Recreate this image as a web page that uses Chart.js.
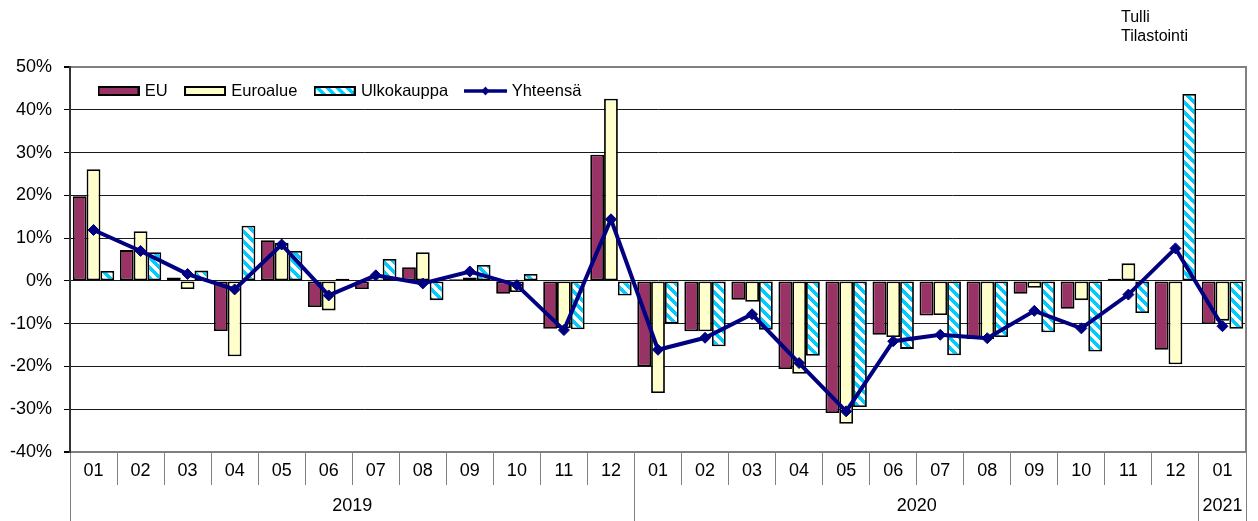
<!DOCTYPE html>
<html>
<head>
<meta charset="utf-8">
<script src="https://cdn.jsdelivr.net/npm/chart.js@4/dist/chart.umd.min.js"></script>
<style>
html,body{margin:0;padding:0;background:#fff;}
canvas{display:block;}
</style>
</head>
<body>
<canvas id="c" width="1258" height="521"></canvas>
<script>
// ---- data ----
const monthLabels = ['01','02','03','04','05','06','07','08','09','10','11','12',
                     '01','02','03','04','05','06','07','08','09','10','11','12','01'];
const yearLabels  = ['2019','2019','2019','2019','2019','2019','2019','2019','2019','2019','2019','2019',
                     '2020','2020','2020','2020','2020','2020','2020','2020','2020','2020','2020','2020','2021'];
const seriesNames = ['EU','Euroalue','Ulkokauppa','Yhteensä'];
const euValues    = [19.8, 7.2, 0.8, -11.7, 9.5, -6.1, -1.9, 3.2, 0.4, -3.0, -11.2, 29.5,
                     -20.0, -11.8, -4.4, -20.6, -30.9, -12.6, -8.1, -13.6, -3.0, -6.5, 0.5, -16.1, -10.1];
const euroValues  = [26.1, 11.6, -1.9, -17.6, 8.9, -6.9, 0.3, 6.7, 0.8, -2.6, -11.0, 42.6,
                     -26.2, -11.8, -4.9, -21.7, -33.4, -13.1, -8.0, -13.6, -1.6, -4.5, 4.1, -19.5, -9.3];
const ulkoValues  = [2.3, 6.7, 2.4, 12.9, 7.0, 0.5, 5.1, -4.5, 3.7, 1.6, -11.3, -3.4,
                     -10.0, -15.3, -11.4, -17.5, -29.5, -15.9, -17.4, -13.1, -12.0, -16.5, -7.5, 43.7, -11.2];
const totalValues = [11.9, 7.0, 1.6, -2.0, 8.5, -3.4, 1.3, -0.6, 2.2, -1.0, -11.5, 14.4,
                     -16.1, -13.3, -7.8, -19.2, -30.5, -14.1, -12.6, -13.4, -7.0, -11.1, -3.2, 7.6, -10.6];
const yTickMin = -40, yTickMax = 50, yTickStep = 10;
const sourceLines = ['Tulli', 'Tilastointi'];

// ---- styles ----
const FONT = "'Liberation Sans', Arial, sans-serif";
Chart.defaults.font.family = FONT;
Chart.defaults.color = '#000';

const EU_COLOR = '#993366';
const EURO_COLOR = '#FFFFCC';
const CYAN = '#00CCFF';
const NAVY = '#000080';

function stripeTile() {
  const s = 10;
  const t = document.createElement('canvas');
  t.width = s; t.height = s;
  const g = t.getContext('2d');
  g.fillStyle = '#fff'; g.fillRect(0, 0, s, s);
  g.fillStyle = CYAN;
  for (let y = 0; y < s; y++) {
    for (let x = 0; x < s; x++) {
      const d = ((x - y) % s + s) % s;
      if (d < 5) g.fillRect(x, y, 1, 1);
    }
  }
  return t;
}
const tile = stripeTile();
const mainCtx = document.getElementById('c').getContext('2d');
const stripePattern = mainCtx.createPattern(tile, 'repeat');

function boxIcon(kind) {
  const c = document.createElement('canvas');
  c.width = 42; c.height = 10;
  const g = c.getContext('2d');
  if (kind === 'pattern') g.fillStyle = g.createPattern(tile, 'repeat');
  else g.fillStyle = kind;
  g.fillRect(0, 0, 42, 10);
  g.strokeStyle = '#000'; g.lineWidth = 2;
  g.strokeRect(1, 1, 40, 8);
  return c;
}
function lineIcon() {
  const c = document.createElement('canvas');
  c.width = 43; c.height = 12;
  const g = c.getContext('2d');
  g.strokeStyle = NAVY; g.lineWidth = 3.5;
  g.beginPath(); g.moveTo(0, 6); g.lineTo(43, 6); g.stroke();
  g.fillStyle = NAVY;
  g.beginPath(); g.moveTo(21.5, 1.5); g.lineTo(25.5, 6); g.lineTo(21.5, 10.5); g.lineTo(17.5, 6); g.closePath(); g.fill();
  return c;
}
const legendIcons = [boxIcon(EU_COLOR), boxIcon(EURO_COLOR), boxIcon('pattern'), lineIcon()];

// year groups derived from the year labels
const groups = [];
yearLabels.forEach((y, i) => {
  const last = groups[groups.length - 1];
  if (!last || last.year !== y) groups.push({ year: y, start: i, end: i });
  else last.end = i;
});
const yearBoundaries = groups.map(g => g.start).concat([monthLabels.length]);
const yearCenters = groups.map(g => ({ value: (g.start + g.end + 1) / 2, label: g.year }));

const placementPlugin = {
  id: 'placement',
  afterLayout(chart) {
    const lg = chart.legend;
    if (lg) {
      const pad = lg.options.labels.padding;
      lg.left = 100.5 - pad;
      lg.top = 82.75 - pad;
      lg.right = 1230;
      lg.bottom = 125;
      lg.width = lg.right - lg.left;
      lg.height = lg.bottom - lg.top;
    }
  },
  afterDraw(chart) {
    const g = chart.ctx;
    g.save();
    g.fillStyle = '#000';
    g.font = '16px ' + FONT;
    g.textBaseline = 'alphabetic';
    g.textAlign = 'left';
    g.fillText(sourceLines[0], 1121, 21.5);
    g.fillText(sourceLines[1], 1121, 41);
    g.restore();
  }
};

const barCommon = { borderColor: '#000', borderWidth: 1.8, borderSkipped: false, order: 1,
                    categoryPercentage: 0.88, barPercentage: 1.0 };

new Chart(mainCtx, {
  type: 'bar',
  data: {
    labels: monthLabels,
    datasets: [
      Object.assign({ label: seriesNames[0], data: euValues, backgroundColor: EU_COLOR }, barCommon),
      Object.assign({ label: seriesNames[1], data: euroValues, backgroundColor: EURO_COLOR }, barCommon),
      Object.assign({ label: seriesNames[2], data: ulkoValues, backgroundColor: stripePattern }, barCommon),
      { type: 'line', label: seriesNames[3], data: totalValues, borderColor: NAVY, backgroundColor: NAVY,
        borderWidth: 4, pointStyle: 'rectRot', pointRadius: 5.5, pointBorderWidth: 1,
        pointBackgroundColor: NAVY, pointBorderColor: NAVY, tension: 0, fill: false, order: 0 }
    ]
  },
  options: {
    responsive: false,
    animation: false,
    layout: { padding: { top: 67, left: 0, right: 0, bottom: 0 } },
    plugins: {
      tooltip: { enabled: false },
      title: { display: false },
      legend: {
        display: true, position: 'top', align: 'start', maxHeight: 0.001,
        labels: {
          usePointStyle: true, pointStyleWidth: 36, boxHeight: 12, padding: 19.35,
          font: { size: 16.5, family: FONT }, color: '#000',
          generateLabels: (chart) => chart.data.datasets.map((ds, i) => ({
            text: ds.label, pointStyle: legendIcons[i], fillStyle: '#000', strokeStyle: '#000',
            lineWidth: 0, hidden: false, datasetIndex: i
          }))
        }
      }
    },
    scales: {
      x: {
        type: 'category', position: 'bottom', offset: true,
        grid: { offset: true, drawOnChartArea: false, drawTicks: true, tickLength: 33, color: '#808080', lineWidth: 1 },
        border: { display: true, color: '#808080', width: 1 },
        ticks: { padding: -24.8, autoSkip: false, maxRotation: 0, minRotation: 0, color: '#000', font: { size: 18, family: FONT } },
        afterFit: (s) => { s.height = 33; }
      },
      x2: {
        type: 'linear', position: 'bottom', min: 0, max: monthLabels.length, offset: false,
        afterBuildTicks: (s) => {
          s.ticks = yearBoundaries.map(v => ({ value: v }))
            .concat(yearCenters.map(c => ({ value: c.value })))
            .sort((a, b) => a.value - b.value);
        },
        grid: {
          offset: false, drawOnChartArea: false, drawTicks: true, tickLength: 36, lineWidth: 1,
          color: (ctx) => (ctx.tick && yearBoundaries.includes(ctx.tick.value)) ? '#808080' : 'rgba(0,0,0,0)'
        },
        border: { display: false },
        ticks: {
          padding: -25.8, autoSkip: false, maxRotation: 0, minRotation: 0, color: '#000', font: { size: 18, family: FONT },
          callback: (v) => { const c = yearCenters.find(c => c.value === v); return c ? c.label : ''; }
        },
        afterFit: (s) => { s.height = 36; }
      },
      y: {
        type: 'linear', position: 'left', min: yTickMin, max: yTickMax,
        ticks: { stepSize: yTickStep, padding: 12, color: '#000', font: { size: 18, family: FONT },
                 callback: (v) => v + '%' },
        grid: {
          drawTicks: true, tickLength: 6, tickColor: '#000',
          color: (ctx) => (ctx.tick && (ctx.tick.value === yTickMax || ctx.tick.value === yTickMin)) ? '#808080' : '#1a1a1a',
          lineWidth: (ctx) => (ctx.tick && (ctx.tick.value === yTickMax || ctx.tick.value === yTickMin)) ? 2 : 1
        },
        border: { display: true, color: '#333', width: 2 },
        afterFit: (s) => { s.width = 70; }
      },
      y2: {
        type: 'linear', position: 'right', display: true,
        grid: { display: false, drawTicks: false },
        ticks: { display: false },
        border: { display: true, color: '#808080', width: 2 },
        afterFit: (s) => { s.width = 12; }
      }
    }
  },
  plugins: [placementPlugin]
});
</script>
</body>
</html>
